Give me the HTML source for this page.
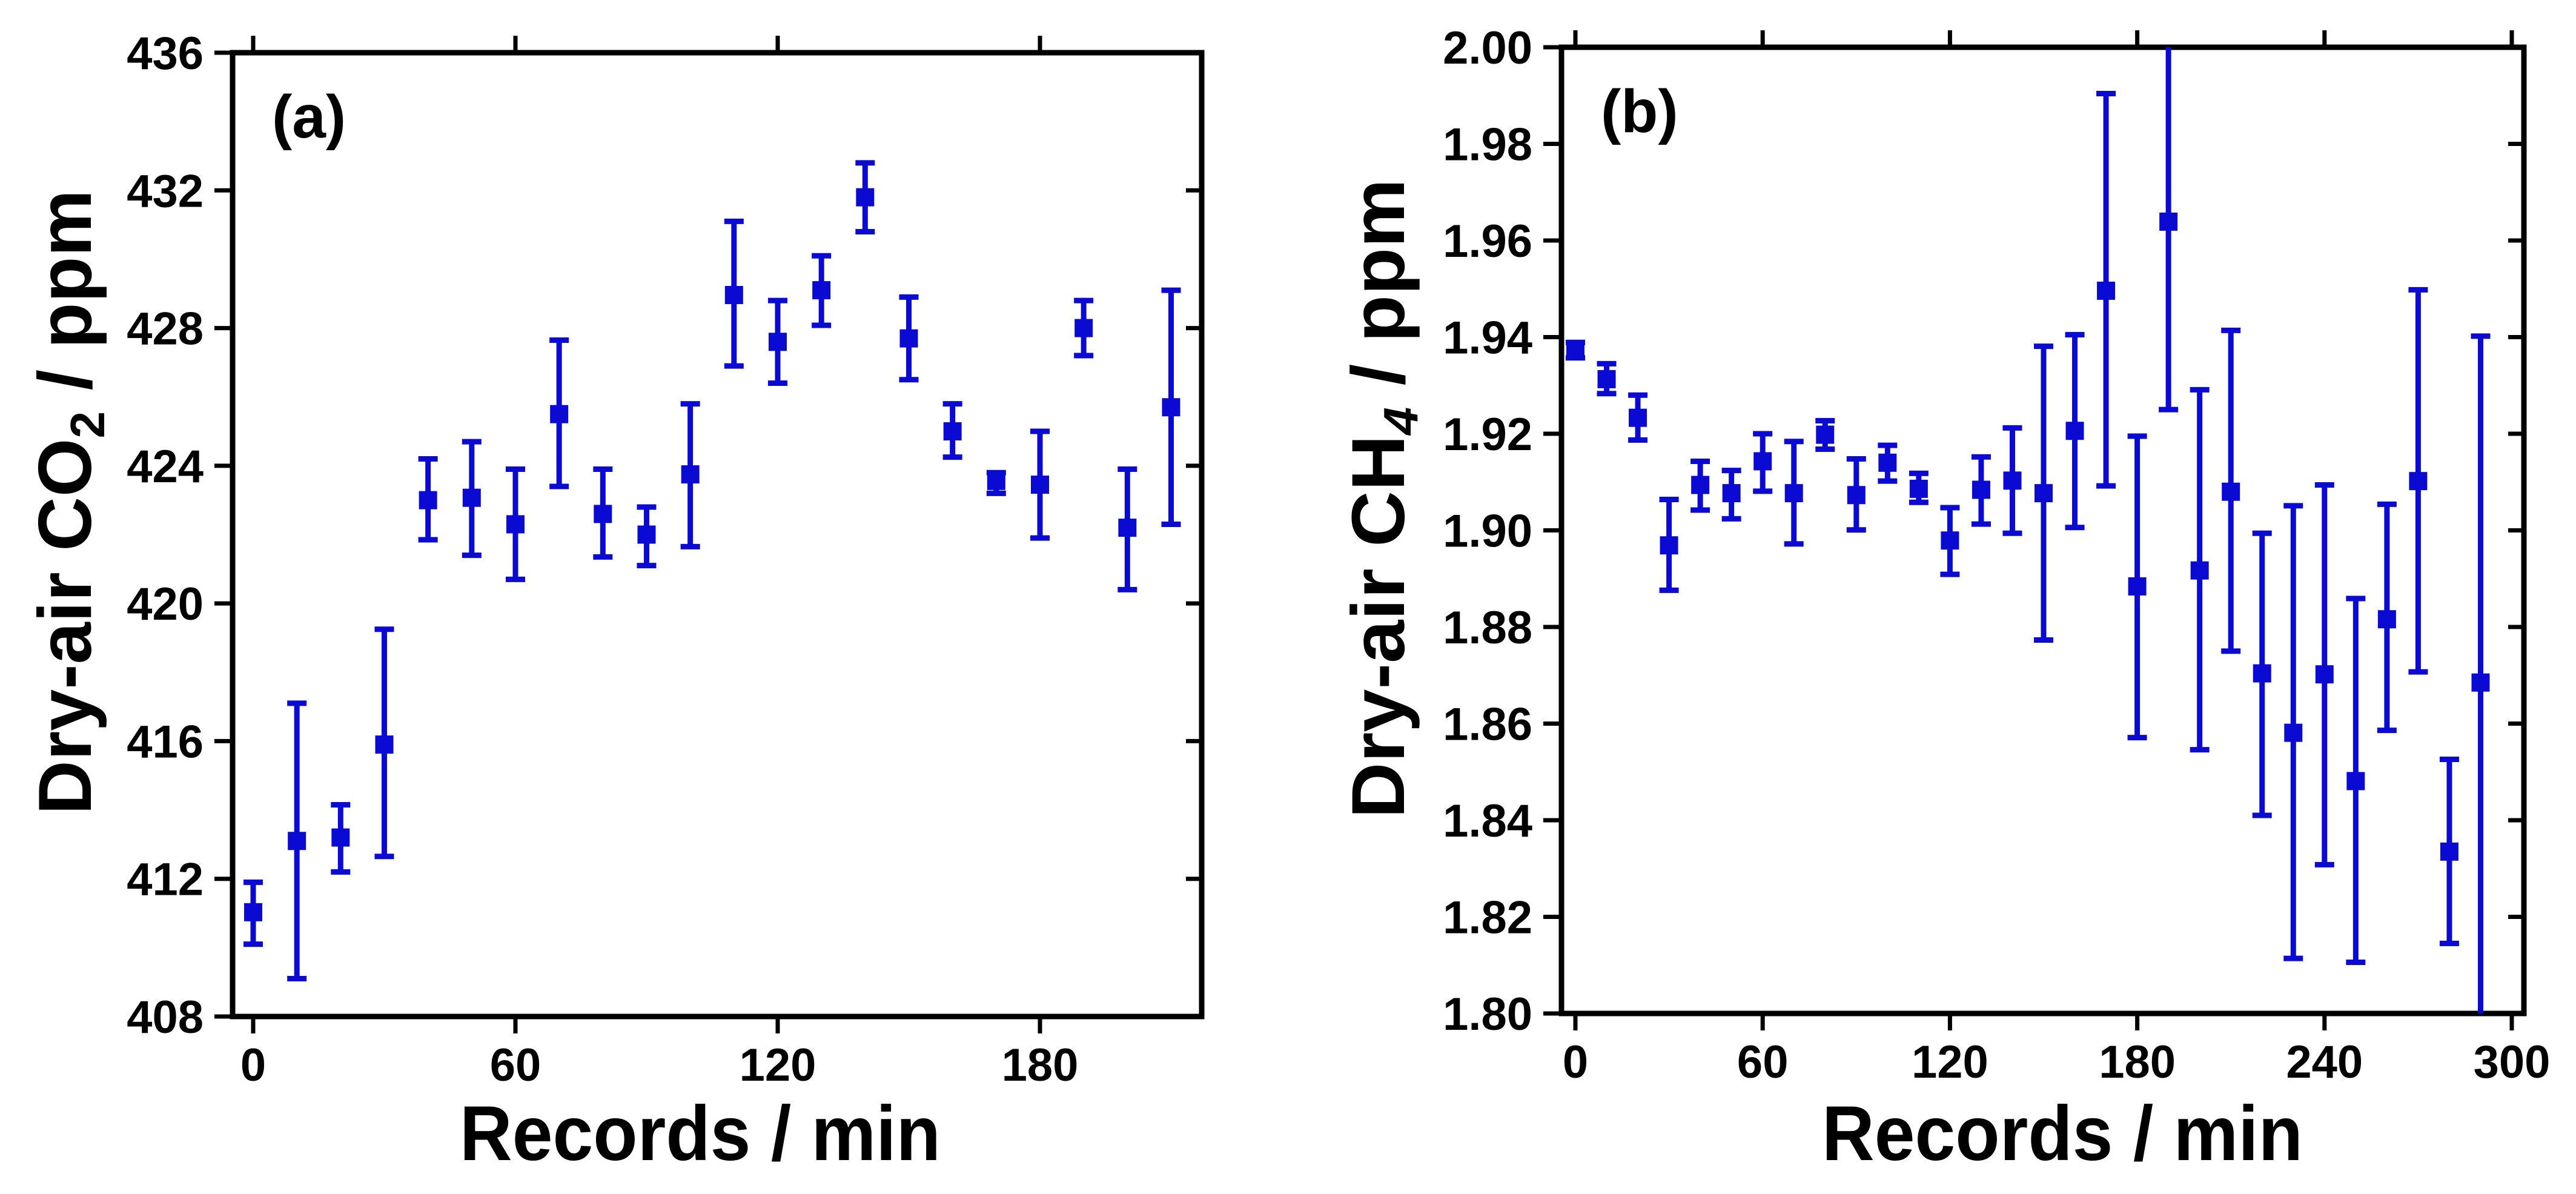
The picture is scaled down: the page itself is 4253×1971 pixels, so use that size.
<!DOCTYPE html>
<html><head><meta charset="utf-8"><style>
html,body{margin:0;padding:0;background:#fff}
svg{display:block}
text{font-family:"Liberation Sans",sans-serif;font-weight:bold;fill:#000}
</style></head><body>
<svg id="fig" width="4253" height="1971" viewBox="0 0 4253 1971" xmlns="http://www.w3.org/2000/svg"></svg>
<script>
// Panel (a) CO2 data
const aTimes = [0,10,20,30,40,50,60,70,80,90,100,110,120,130,140,150,160,170,180,190,200,210];
const aValues = [411.03,413.1,413.2,415.9,423.0,423.07,422.3,425.5,422.6,422.0,423.75,428.96,427.6,429.1,431.8,427.7,425.0,423.56,423.45,428.0,422.2,425.7];
const aUpper = [411.9,417.1,414.15,419.25,424.2,424.7,423.9,427.65,423.9,422.8,425.8,431.1,428.8,430.1,432.8,428.9,425.8,423.8,425.0,428.8,423.9,429.1];
const aLower = [410.1,409.1,412.2,412.65,421.85,421.4,420.7,423.4,421.35,421.1,421.65,426.9,426.4,428.08,430.8,426.5,424.25,423.2,421.9,427.2,420.4,422.3];
const aXTicks = [0,60,120,180];
const aYTicks = [408,412,416,420,424,428,432,436];
// Panel (b) CH4 data
const bTimes = [0,10,20,30,40,50,60,70,80,90,100,110,120,130,140,150,160,170,180,190,200,210,220,230,240,250,260,270,280,290];
const bValues = [1.9373,1.9313,1.9233,1.8969,1.9094,1.9077,1.9143,1.9077,1.9198,1.9073,1.914,1.9086,1.8979,1.9084,1.9103,1.9077,1.9206,1.9496,1.8884,1.9639,1.8917,1.908,1.8704,1.8581,1.8702,1.8481,1.8816,1.9102,1.8335,1.8685];
const bUpper = [1.9389,1.9345,1.928,1.9064,1.9143,1.9124,1.92,1.9184,1.9227,1.9148,1.9176,1.9118,1.9047,1.9152,1.9212,1.9381,1.9405,1.9904,1.9195,2.003,1.9291,1.9414,1.8994,1.9051,1.9094,1.8859,1.9054,1.9498,1.8526,1.9402];
const bLower = [1.9357,1.9283,1.9187,1.8876,1.9042,1.9024,1.9081,1.8972,1.9168,1.9001,1.9102,1.9058,1.8909,1.9013,1.8994,1.8773,1.9006,1.9092,1.8571,1.925,1.8546,1.875,1.841,1.8114,1.8308,1.8106,1.8586,1.8707,1.8145,1.79];
const bXTicks = [0,60,120,180,240,300];
const bYTicks = [1.80,1.82,1.84,1.86,1.88,1.90,1.92,1.94,1.96,1.98,2.00];

const NS = "http://www.w3.org/2000/svg";
const svg = document.getElementById('fig');
function mk(tag, attrs, parent){
  const e = document.createElementNS(NS, tag);
  for (const k in attrs) e.setAttribute(k, attrs[k]);
  (parent||svg).appendChild(e);
  return e;
}
const BLUE = "#0a0ad2";

function panel(cfg){
  const g = mk('g', {});
  
  
  const sx = v => cfg.x0px + (v - cfg.xmin) / (cfg.xmax - cfg.xmin) * (cfg.xmaxpx - cfg.x0px);
  const sy = v => cfg.bottom - (v - cfg.ymin) / (cfg.ymax - cfg.ymin) * (cfg.bottom - cfg.top);
  const cid = cfg.name + '-clip';
  const defs = mk('defs', {}, g);
  const cp = mk('clipPath', {id: cid}, defs);
  mk('rect', {x: cfg.left, y: cfg.top, width: cfg.right - cfg.left, height: cfg.bottom - cfg.top}, cp);
  cfg.xticks.forEach(t => {
    const x = sx(t);
    const tk = mk('line', {x1: x, x2: x, y1: cfg.bottom, y2: cfg.bottom + 28, stroke: '#000', 'stroke-width': 7}, g);
    
    
    const tt = mk('line', {x1: x, x2: x, y1: cfg.top, y2: cfg.top - 28, stroke: '#000', 'stroke-width': 7}, g);
    
    
    const lb = mk('text', {x: x, y: cfg.bottom + 106, 'text-anchor': 'middle', 'font-size': 76}, g);
    
    
    lb.textContent = String(t);
  });
  cfg.yticks.forEach(t => {
    const y = sy(t);
    const tk = mk('line', {x1: cfg.left - 30, x2: cfg.left, y1: y, y2: y, stroke: '#000', 'stroke-width': 7}, g);
    
    
    const tr = mk('line', {x1: cfg.right - 26, x2: cfg.right, y1: y, y2: y, stroke: '#000', 'stroke-width': 7}, g);
    
    
    const lb = mk('text', {x: cfg.left - 48, y: y + 27, 'text-anchor': 'end', 'font-size': 76}, g);
    
    
    lb.textContent = cfg.fmt(t);
  });
  const fr = mk('rect', {x: cfg.left, y: cfg.top, width: cfg.right - cfg.left, height: cfg.bottom - cfg.top, fill: 'none', stroke: '#000', 'stroke-width': 9}, g);
  
  
  const dg = mk('g', {'clip-path': 'url(#' + cid + ')'}, g);
  
  
  cfg.times.forEach((t, i) => {
    const x = sx(t), yu = sy(cfg.upper[i]), yl = sy(cfg.lower[i]), yc = sy(cfg.values[i]);
    const eb = mk('path', {d: `M${x},${yu}V${yl}M${x-16},${yu}H${x+16}M${x-16},${yl}H${x+16}`, stroke: BLUE, 'stroke-width': 9, fill: 'none'}, dg);
    
    
    const pt = mk('rect', {x: x - 15, y: yc - 15, width: 30, height: 30, fill: BLUE}, dg);
    
    
  });
  const pl = mk('text', {x: cfg.left + 65, y: cfg.top + 140, 'font-size': 100}, g);
  
  
  pl.textContent = cfg.label;
  const xt = mk('text', {x: cfg.xtitleX, y: 1915, 'text-anchor': 'middle', 'font-size': 128, textLength: 794, lengthAdjust: 'spacingAndGlyphs'}, g);
  
  
  xt.textContent = 'Records / min';
  const yt = mk('text', {x: 0, y: 0, 'text-anchor': 'middle', 'font-size': 124, transform: `translate(${cfg.ytitleX},${cfg.ytitleY}) rotate(-90)`}, g);
  
  
  yt.innerHTML = cfg.ytitle;
  yt.setAttribute('textLength', cfg.ytitleLen);
  yt.setAttribute('lengthAdjust', 'spacingAndGlyphs');
}

panel({name: 'panel-a-co2', left: 384, right: 1984, top: 87, bottom: 1678,
  x0px: 418, xmaxpx: 1717, xmin: 0, xmax: 180, ymin: 408, ymax: 436,
  times: aTimes, values: aValues, upper: aUpper, lower: aLower,
  xticks: aXTicks, yticks: aYTicks, fmt: v => String(v), label: '(a)',
  xtitleX: 1156, ytitleX: 150, ytitleY: 829, ytitleLen: 1032,
  ytitle: 'Dry-air CO<tspan font-size="80" dy="22">2</tspan><tspan dy="-22"> / ppm</tspan>'});

panel({name: 'panel-b-ch4', left: 2578, right: 4167, top: 78, bottom: 1673,
  x0px: 2601, xmaxpx: 4147, xmin: 0, xmax: 300, ymin: 1.80, ymax: 2.00,
  times: bTimes, values: bValues, upper: bUpper, lower: bLower,
  xticks: bXTicks, yticks: bYTicks, fmt: v => v.toFixed(2), label: '(b)',
  xtitleX: 3405, ytitleX: 2318, ytitleY: 823, ytitleLen: 1056,
  ytitle: 'Dry-air CH<tspan font-size="80" dy="22" font-style="italic">4</tspan><tspan dy="-22">  / ppm</tspan>'});
</script>
</body></html>
